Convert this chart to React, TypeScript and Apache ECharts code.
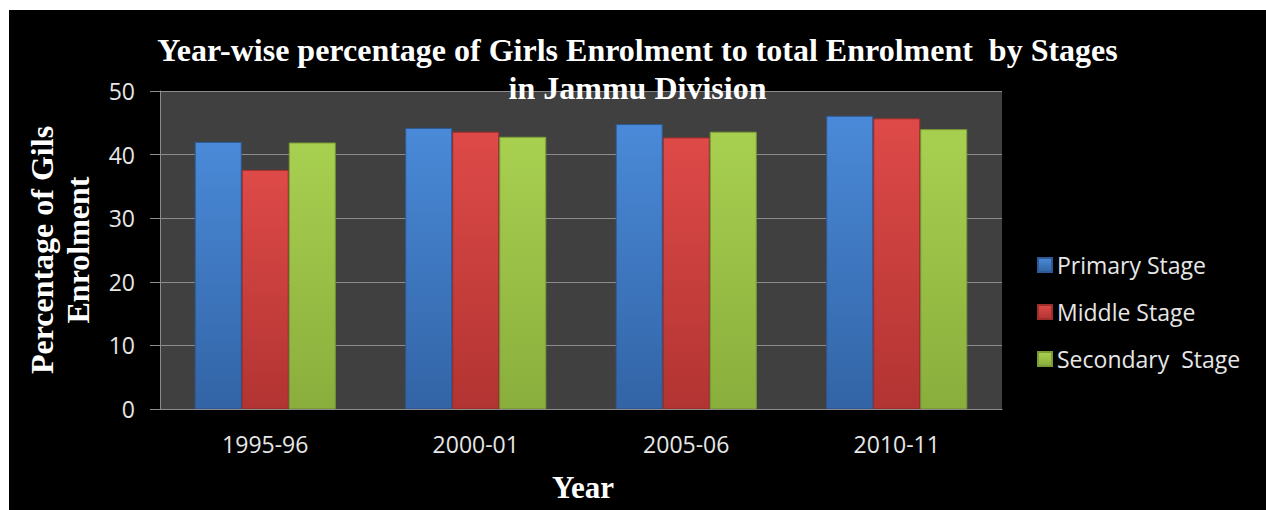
import React, { useEffect, useRef } from "react";
import * as echarts from "echarts";

const categories = ["1995-96", "2000-01", "2005-06", "2010-11"];
const primaryStage = [42.0, 44.2, 44.8, 46.1];
const middleStage = [37.6, 43.6, 42.7, 45.7];
const secondaryStage = [41.9, 42.8, 43.6, 44.0];
const seriesNames = ["Primary Stage", "Middle Stage", "Secondary  Stage"];
const titleLines = [
  "Year-wise percentage of Girls Enrolment to total Enrolment  by Stages",
  "in Jammu Division",
];
const yAxisTitle = ["Percentage of Gils", "Enrolment"];
const xAxisTitle = "Year";

const grad = (top: string, bottom: string) =>
  new echarts.graphic.LinearGradient(0, 0, 0, 1, [
    { offset: 0, color: top },
    { offset: 1, color: bottom },
  ]);

export default function App() {
  const ref = useRef<HTMLDivElement>(null);
  useEffect(() => {
    document.body.style.margin = "0";
    if (!ref.current) return;
    const chart = echarts.init(ref.current, null, { renderer: "svg" });
    const serif = "'Liberation Serif', 'Times New Roman', serif";
    const sans = "'Open Sans', 'Noto Sans', sans-serif";
    const mk = (name: string, data: number[], top: string, bottom: string, border: string) => ({
      name,
      type: "bar",
      data,
      barGap: "0%",
      barCategoryGap: "33%",
      itemStyle: { color: grad(top, bottom), borderColor: border, borderWidth: 1 },
    });
    chart.setOption({
      animation: false,
      backgroundColor: "#000000",
      title: {
        text: titleLines.join("\n"),
        left: "center",
        top: 16,
        textStyle: {
          color: "#ffffff",
          fontFamily: serif,
          fontWeight: "bold",
          fontSize: 32,
          lineHeight: 38,
        },
      },
      legend: {
        orient: "vertical",
        left: 1023,
        top: 238,
        icon: "rect",
        itemWidth: 14,
        itemHeight: 14,
        itemGap: 23,
        textStyle: { color: "#e6e6e6", fontFamily: sans, fontSize: 23, lineHeight: 24 },
        data: seriesNames,
      },
      grid: {
        left: 151,
        top: 81,
        right: 264,
        bottom: 101,
        show: true,
        backgroundColor: "#404040",
        borderWidth: 0,
      },
      xAxis: {
        type: "category",
        data: categories,
        axisLine: { lineStyle: { color: "#8c8c8c", width: 1 } },
        axisTick: { show: false },
        axisLabel: { color: "#e6e6e6", fontFamily: sans, fontSize: 23, margin: 23 },
      },
      yAxis: {
        type: "value",
        min: 0,
        max: 50,
        interval: 10,
        axisLine: { show: true, lineStyle: { color: "#8c8c8c", width: 1 } },
        axisTick: { show: true, length: 10, lineStyle: { color: "#8c8c8c" } },
        axisLabel: { color: "#e6e6e6", fontFamily: sans, fontSize: 23, margin: 25 },
        splitLine: { lineStyle: { color: "#8c8c8c", width: 1 } },
      },
      graphic: [
        {
          type: "text",
          x: 51,
          y: 250 - 10,
          rotation: Math.PI / 2,
          style: {
            text: yAxisTitle.join("\n"),
            fill: "#ffffff",
            font: `bold 32px ${serif}`,
            lineHeight: 36,
            align: "center",
            verticalAlign: "middle",
          },
        },
        {
          type: "text",
          x: 583 - 9,
          y: 487 - 10,
          style: {
            text: xAxisTitle,
            fill: "#ffffff",
            font: `bold 31px ${serif}`,
            align: "center",
            verticalAlign: "middle",
          },
        },
      ],
      series: [
        mk(seriesNames[0], primaryStage, "#4a8ad8", "#3264a6", "#2d5a95"),
        mk(seriesNames[1], middleStage, "#de4a48", "#b23432", "#9e2e2c"),
        mk(seriesNames[2], secondaryStage, "#a8d050", "#8aae3c", "#7a9c34"),
      ],
    });
    return () => chart.dispose();
  }, []);
  return (
    <div style={{ width: 1266, height: 510, background: "#ffffff", position: "relative" }}>
      <div
        ref={ref}
        style={{ position: "absolute", left: 9, top: 10, width: 1257, height: 500 }}
      />
    </div>
  );
}
